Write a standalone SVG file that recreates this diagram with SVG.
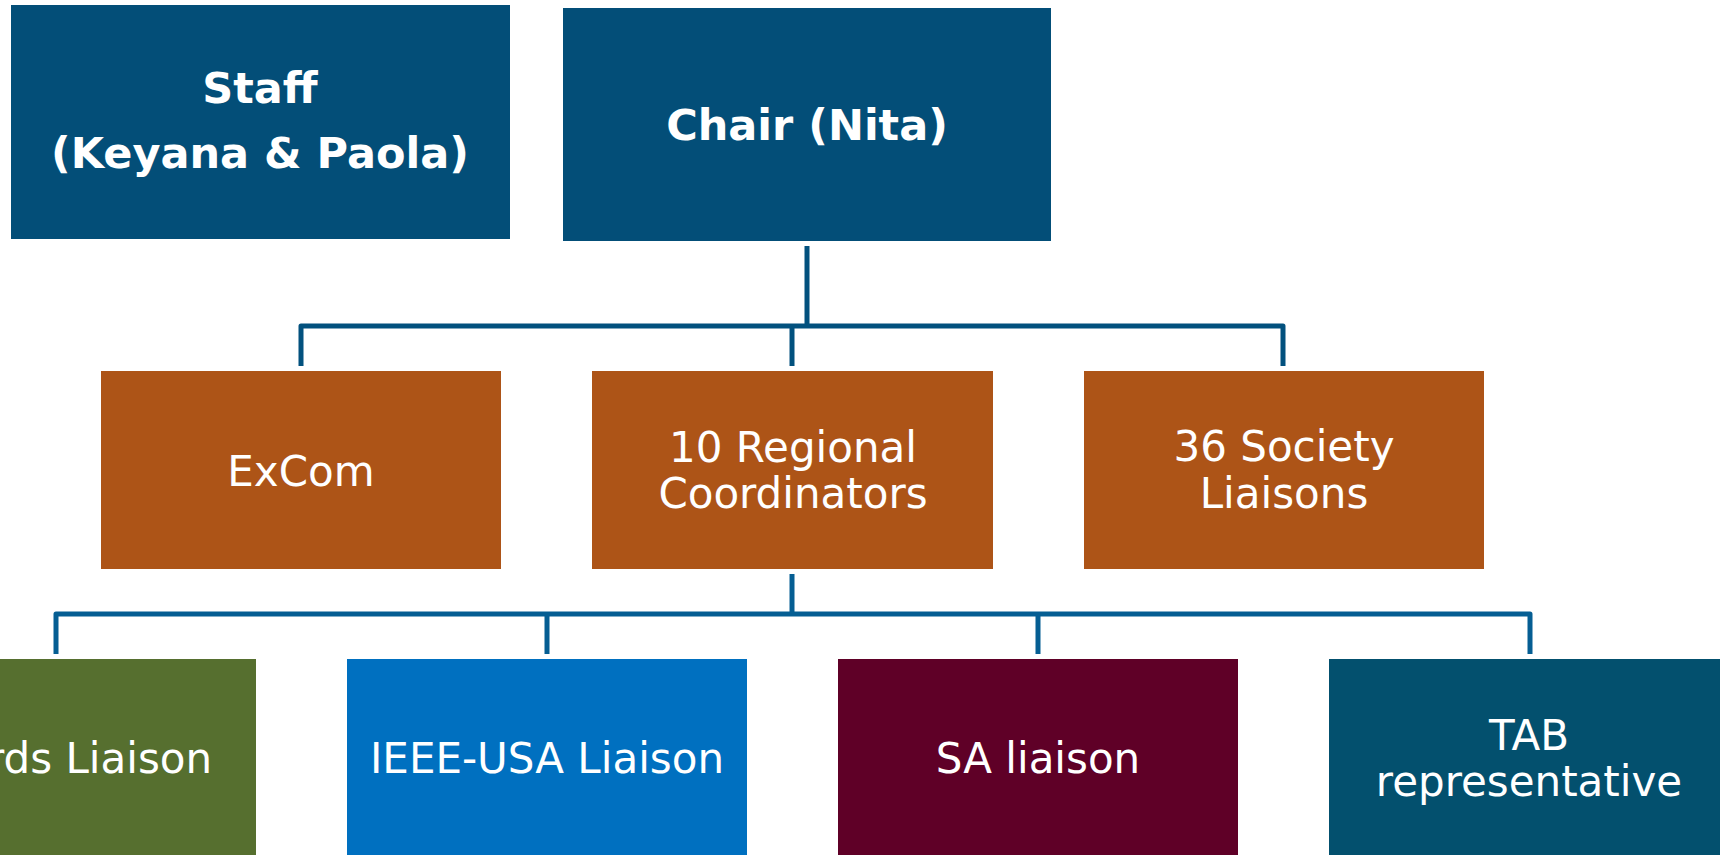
<svg xmlns="http://www.w3.org/2000/svg" width="1720" height="855" viewBox="0 0 1720 855">
<style>
.t{font-family:"DejaVu Sans","Verdana",sans-serif;font-size:42px;fill:#ffffff;text-anchor:middle}
.b{font-weight:bold;font-size:43px}
.c1{fill:none;stroke:#02517E;stroke-width:5;stroke-linejoin:round}
.c2{fill:none;stroke:#055E93;stroke-width:5;stroke-linejoin:round}
.navy{fill:#034E78}
.orange{fill:#AD5417}
</style>
<rect width="1720" height="855" fill="#ffffff"/>
<g id="connectors">
<path class="c1" d="M807 246V326M301 366V326H1283V366M792 326V366"/>
<path class="c2" d="M792 574V614M56 654V614H1530V654M547 614V654M1038 614V654"/>
</g>
<g id="staff">
<rect class="navy" x="11" y="5" width="499" height="234"/>
<text class="t b" x="260" y="103">Staff</text>
<text class="t b" x="260" y="168">(Keyana &amp; Paola)</text>
</g>
<g id="chair">
<rect class="navy" x="563" y="8" width="488" height="233"/>
<text class="t b" x="807" y="140">Chair (Nita)</text>
</g>
<g id="excom">
<rect class="orange" x="101" y="371" width="400" height="198"/>
<text class="t" x="301" y="486">ExCom</text>
</g>
<g id="regional">
<rect class="orange" x="592" y="371" width="401" height="198"/>
<text class="t" x="793" y="462">10 Regional</text>
<text class="t" x="793" y="508">Coordinators</text>
</g>
<g id="society">
<rect class="orange" x="1084" y="371" width="400" height="198"/>
<text class="t" x="1284" y="461">36 Society</text>
<text class="t" x="1284" y="508">Liaisons</text>
</g>
<g id="awards">
<rect fill="#566F2F" x="-144" y="659" width="400" height="200"/>
<text class="t" x="56" y="773">Awards Liaison</text>
</g>
<g id="ieeeusa">
<rect fill="#0070C0" x="347" y="659" width="400" height="200"/>
<text class="t" x="547" y="773">IEEE-USA Liaison</text>
</g>
<g id="sa">
<rect fill="#5F0027" x="838" y="659" width="400" height="200"/>
<text class="t" x="1038" y="773">SA liaison</text>
</g>
<g id="tab">
<rect fill="#03506E" x="1329" y="659" width="400" height="200"/>
<text class="t" x="1529" y="750">TAB</text>
<text class="t" x="1529" y="796">representative</text>
</g>
</svg>
